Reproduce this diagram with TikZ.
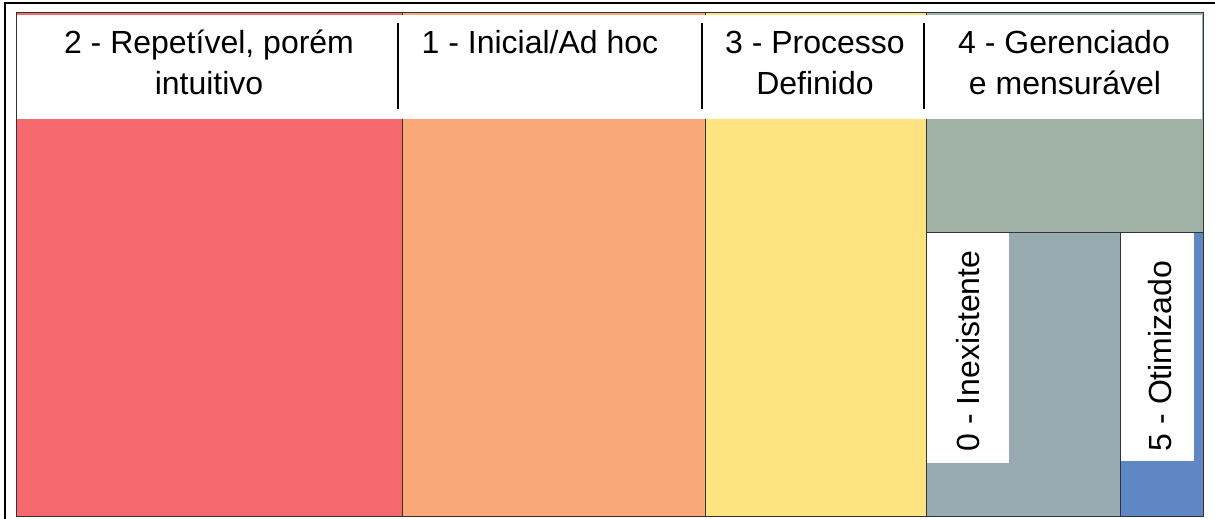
\documentclass[tikz,border=0pt]{standalone}
\usepackage{fontspec}
\setmainfont{Liberation Sans}
\begin{document}
\begin{tikzpicture}[x=1pt,y=-1pt,
  cell/.style={draw=black!80,line width=1pt},
  label/.style={font=\fontsize{32}{40}\selectfont,inner sep=0pt,anchor=base},
  vlabel/.style={font=\fontsize{32}{40}\selectfont,inner sep=0pt,rotate=90},
  sep/.style={draw=black,line width=1.6pt},
  frame/.style={draw=black,line width=1.2pt}]
\definecolor{cRed}{HTML}{F5696E}
\definecolor{cOrange}{HTML}{F9A877}
\definecolor{cYellow}{HTML}{FEE381}
\definecolor{cSage}{HTML}{A0B2A6}
\definecolor{cSlate}{HTML}{97AAAF}
\definecolor{cBlue}{HTML}{5F87C5}
\useasboundingbox (0,0) rectangle (1215,519);
\fill[white] (0,0) rectangle (1215,519);

% outer frame (top and left edges)
\coordinate (fTL) at (5,3);
\coordinate (fTR) at (1215,3);
\coordinate (fBL) at (5,519);
\draw[frame] (fBL) -- (fTL) -- (fTR);

% treemap cells
\filldraw[cell,fill=cRed]    (16,13)   rectangle (402,516);
\filldraw[cell,fill=cOrange] (402,13)  rectangle (705,516);
\filldraw[cell,fill=cYellow] (705,13)  rectangle (926,516);
\filldraw[cell,fill=cSage]   (926,13)  rectangle (1203,232);
\filldraw[cell,fill=cSlate]  (926,232) rectangle (1120,516);
\filldraw[cell,fill=cBlue]   (1120,232) rectangle (1203,516);

% white header band
\fill[white] (17,15) rectangle (1202,119);

% header separators
\coordinate (s1t) at (398,23);  \coordinate (s1b) at (398,109);
\coordinate (s2t) at (702,23);  \coordinate (s2b) at (702,109);
\coordinate (s3t) at (924,23);  \coordinate (s3b) at (924,109);
\draw[sep] (s1t) -- (s1b);
\draw[sep] (s2t) -- (s2b);
\draw[sep] (s3t) -- (s3b);

% header labels
\node[label] (h2a) at (209,54) {2 - Repetível, porém};
\node[label] (h2b) at (209,94) {intuitivo};
\node[label] (h1a) at (540,54) {1 - Inicial/Ad hoc};
\node[label] (h3a) at (815,54) {3 - Processo};
\node[label] (h3b) at (815,94) {Definido};
\node[label] (h4a) at (1064,54) {4 - Gerenciado};
\node[label] (h4b) at (1065,94) {e mensurável};

% white boxes behind the rotated labels
\fill[white] (927,233) rectangle (1009,463);
\fill[white] (1121,233) rectangle (1194,461);

% rotated labels
\node[vlabel] (l0) at (968,351) {0 - Inexistente};
\node[vlabel] (l5) at (1160,356) {5 - Otimizado};
\end{tikzpicture}
\end{document}
